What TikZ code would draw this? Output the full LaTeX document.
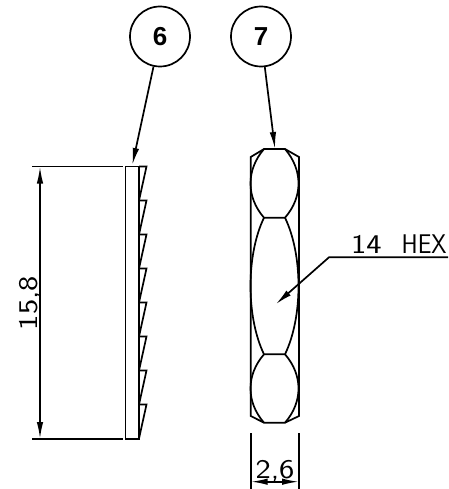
\documentclass[tikz,border=0pt]{standalone}
\usepackage{fontspec}
\setmainfont{Liberation Sans}
\usetikzlibrary{arrows.meta}
\tikzset{
  drawn/.style={line width=1.7pt,line join=miter},
  headed/.style={{Latex[length=17pt,width=6.5pt]}-{Latex[length=17pt,width=6.5pt]}},
  tipped/.style={drawn,-{Latex[length=17pt,width=6.5pt]}},
  balloon/.style={circle,draw,line width=1.7pt,minimum size=60pt,inner sep=0pt,font=\fontsize{26}{26}\selectfont\bfseries},
  dimtext/.style={inner sep=0pt,font=\sffamily\fontsize{27}{27}\selectfont}
}
\begin{document}
\begin{tikzpicture}[x=1pt,y=-1pt]
\useasboundingbox (0,0) rectangle (448,489);
\clip (0,0) rectangle (448,489);
% balloons
\node[balloon] (c6) at (160,36.5) {\raisebox{-2pt}{6}};
\node[balloon] (c7) at (261,36.5) {\raisebox{-2pt}{7}};
\coordinate (t6) at (132.3,165);
\coordinate (t7) at (275,149);
\draw[tipped] (c6) -- (t6);
\draw[tipped] (c7) -- (t7);
% toothed plate
\draw[drawn] (139,166.5) -- (125.5,166.5) -- (125.5,439) -- (139,439) -- (139,166.5);
\foreach \i in {0,...,7}{
  \draw[drawn] (139,166.5+34*\i) -- (146.5,166.5+34*\i) -- (139,200.5+34*\i);
}
% dimension 15,8
\coordinate (e1a) at (32,166.5);\coordinate (e1b) at (123,166.5);
\coordinate (e2a) at (32,439);\coordinate (e2b) at (123,439);
\coordinate (d1) at (40,166.5);\coordinate (d2) at (40,439);
\draw[drawn] (e1a) -- (e1b);
\draw[drawn] (e2a) -- (e2b);
\draw[drawn,headed] (d1) -- (d2);
\node[dimtext,rotate=90,anchor=base] (t158) at (37,303) {\scalebox{1.2}[1]{15,8}};
% hex nut
\draw[drawn] (264,149) -- (285,149) -- (299,157) -- (299,416) -- (285,422.7) -- (264,422.7) -- (250.7,416) -- (250.7,157) -- cycle;
\draw[drawn] (264,149) .. controls (246,170) and (246,197) .. (264,217.7) -- (285,217.7) .. controls (303,197) and (303,170) .. (285,149);
\draw[drawn] (264,217.7) .. controls (246,255) and (246,317) .. (264,354.3) -- (285,354.3) .. controls (303,317) and (303,255) .. (285,217.7);
\draw[drawn] (264,354.3) .. controls (246,375) and (246,402) .. (264,422.7);
\draw[drawn] (285,354.3) .. controls (303,375) and (303,402) .. (285,422.7);
% leader 14 HEX
\coordinate (l0) at (448,257.3);\coordinate (l1) at (329,257.3);\coordinate (l2) at (275.7,304.3);
\draw[tipped] (l0) -- (l1) -- (l2);
\node[dimtext,anchor=base west] (hex) at (351,253) {\scalebox{1.2}[1]{14}\hspace{20pt}\scalebox{0.9}[1]{HEX}};
% dimension 2,6
\coordinate (x1) at (250.7,433);\coordinate (x2) at (250.7,489);
\coordinate (x3) at (299,433);\coordinate (x4) at (299,489);
\coordinate (a) at (250.7,481.7);\coordinate (b) at (299,481.7);
\draw[drawn] (x1) -- (x2);
\draw[drawn] (x3) -- (x4);
\draw[drawn,headed] (a) -- (b);
\node[dimtext,anchor=base] (t26) at (275,478) {\scalebox{1.2}[1]{2,6}};
\end{tikzpicture}
\end{document}
